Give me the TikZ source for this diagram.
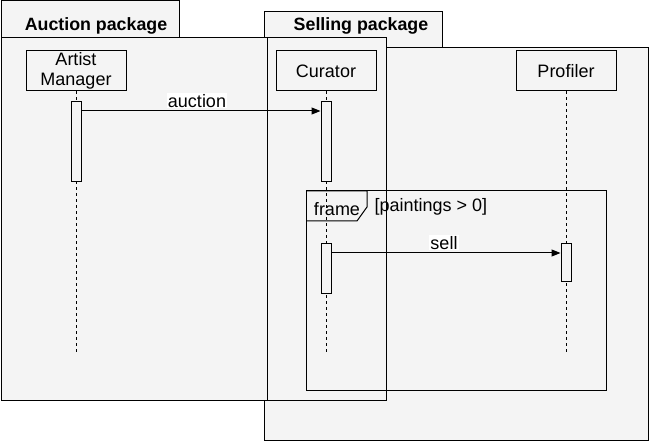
\documentclass[tikz,border=0pt]{standalone}
\usepackage{fontspec}
\setmainfont{Liberation Sans}
\usetikzlibrary{positioning,arrows.meta}
\definecolor{pkgfill}{HTML}{F4F4F4}

\begin{document}
\begin{tikzpicture}[x=1pt, y=-1pt, line width=1pt,
    font=\fontsize{18}{20}\selectfont,
    pkg/.style={draw, fill=pkgfill},
    title/.style={font=\fontsize{17.8}{20}\selectfont\bfseries},
    actor/.style={draw, fill=pkgfill, minimum width=100pt, minimum height=40pt,
      inner sep=0pt, align=center},
    act/.style={draw, fill=pkgfill, minimum width=10pt, inner sep=0pt, anchor=north},
    lifeline/.style={line width=0.8pt, dash pattern=on 3pt off 3pt},
    msg/.style={-{Triangle[length=9pt,width=7pt]}},
    msglabel/.style={fill=white, inner sep=1pt}]
  \useasboundingbox (0,0) rectangle (651,443);

  % packages
  \draw[pkg] (264,48) rectangle (648,441);
  \draw[pkg] (264,12) rectangle (442,48);
  \draw[pkg] (1,1) rectangle (179,38);
  \draw[pkg] (1,38) rectangle (386,401);
  \draw (267,38) rectangle (386,401);
  \node[title] (auctionpkg) at (96,26) {Auction package};
  \node[title] (sellingpkg) at (361,26) {Selling package};

  % frame
  \draw (306,191) rectangle (606,391);
  \draw (306,191) -- (367,191) -- (367,207) -- (357,221) -- (306,221);
  \node (frametag) at (337,209) {frame};
  \node[anchor=west, inner sep=0pt] (guard) at (374,207) {[paintings > 0]};

  % lifelines
  \node[actor] (am) at (76,71) {Artist\\Manager};
  \node[actor] (cur) at (326,71) {Curator};
  \node[actor] (prof) at (566,71) {Profiler};
  \coordinate (amEnd) at (76,352);
  \coordinate (curEnd) at (326,352);
  \coordinate (profEnd) at (566,352);
  \draw[lifeline] (am) -- (amEnd);
  \draw[lifeline] (cur) -- (curEnd);
  \draw[lifeline] (prof) -- (profEnd);

  \node[act, minimum height=80pt] (amAct) at (76,101) {};
  \node[act, minimum height=80pt] (curAct) at (326,101) {};
  \node[act, minimum height=50pt] (curAct2) at (326,243) {};
  \node[act, minimum height=38pt] (profAct) at (566,243) {};

  % messages
  \draw[msg] ([yshift=-10pt]amAct.north east) -- node[msglabel, above=2pt, xshift=-4pt] {auction}
    ([yshift=-10pt]curAct.north west);
  \draw[msg] ([yshift=-10pt]curAct2.north east) -- node[msglabel, above=2pt, xshift=-2pt] {sell}
    ([yshift=-10pt]profAct.north west);
\end{tikzpicture}
\end{document}
